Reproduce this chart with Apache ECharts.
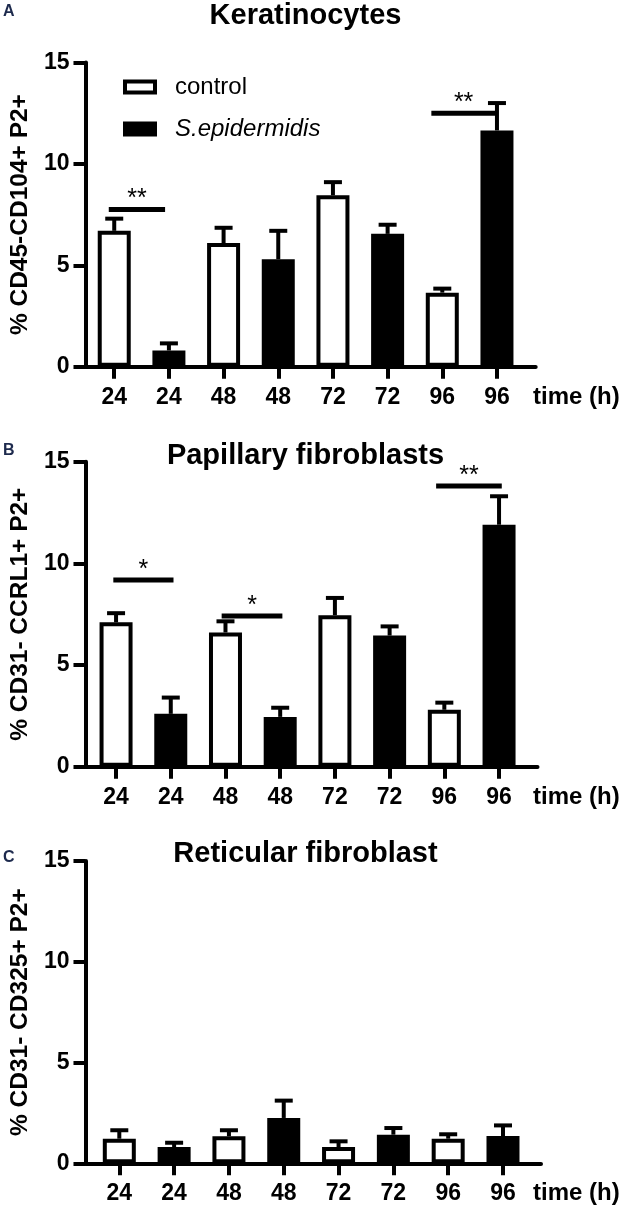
<!DOCTYPE html>
<html><head><meta charset="utf-8">
<script src="https://cdn.jsdelivr.net/npm/echarts@6/dist/echarts.min.js"></script>
<style>html,body{margin:0;padding:0;background:#fff}#c{width:633px;height:1209px}</style>
</head><body><div id="c"></div>
<script>
// ---------- data ----------
const categories = ['24', '24', '48', '48', '72', '72', '96', '96'];
const yTickValues = [0, 5, 10, 15];
const seriesNames = ['control', 'S.epidermidis'];
const panelTitles = ['Keratinocytes', 'Papillary fibroblasts', 'Reticular fibroblast'];
const panelLetters = ['A', 'B', 'C'];
const yAxisNames = ['% CD45-CD104+ P2+', '% CD31- CCRL1+ P2+', '% CD31- CD325+ P2+'];
const timeLabel = 'time (h)';

// Panel A — Keratinocytes (control at 24/48/72/96 h, S.epidermidis at 24/48/72/96 h)
const ctrlA = [6.7, 6.1, 8.45, 3.65];
const ctrlUpperA = [7.3, 6.85, 9.1, 3.85];
const seA = [0.8, 5.3, 6.55, 11.65];
const seUpperA = [1.15, 6.7, 7.0, 13.0];
// significance: [from category, to category, height, label]
const sigA = [[-0.1, 0.93, 7.75, '**'], [5.8, 6.98, 12.5, '**']];

// Panel B — Papillary fibroblasts
const ctrlB = [7.1, 6.6, 7.45, 2.8];
const ctrlUpperB = [7.55, 7.15, 8.3, 3.15];
const seB = [2.6, 2.45, 6.45, 11.9];
const seUpperB = [3.4, 2.9, 6.9, 13.3];
const sigB = [[-0.05, 1.05, 9.18, '*'], [1.93, 3.04, 7.41, '*'], [5.85, 7.05, 13.8, '**']];

// Panel C — Reticular fibroblast
const ctrlC = [1.22, 1.34, 0.81, 1.22];
const ctrlUpperC = [1.64, 1.64, 1.09, 1.44];
const seC = [0.81, 2.25, 1.42, 1.35];
const seUpperC = [1.02, 3.11, 1.75, 1.88];
const sigC = [];

// ---------- layout (px) ----------
const W = 633;
const FONT = "'Liberation Sans', Arial, Helvetica, sans-serif";
const geo = [
  {axisX: 78,   endX: 535.7, bandL: 86.9, bandR: 524.3, top: 62.5,  bottom: 366.7,  titleTop: 1,   letterTop: 4,     nameGap: 50, timeTop: 385},
  {axisX: 80,   endX: 537.5, bandL: 88.7, bandR: 526.4, top: 461.7, bottom: 766.7,  titleTop: 441, letterTop: 443,   nameGap: 50, timeTop: 785},
  {axisX: 82.5, endX: 541,   bandL: 91.9, bandR: 530.4, top: 861,   bottom: 1163.3, titleTop: 839, letterTop: 849.5, nameGap: 51, timeTop: 1181}
];

const panels = [
  {ctrl: ctrlA, ctrlUp: ctrlUpperA, se: seA, seUp: seUpperA, sig: sigA},
  {ctrl: ctrlB, ctrlUp: ctrlUpperB, se: seB, seUp: seUpperB, sig: sigB},
  {ctrl: ctrlC, ctrlUp: ctrlUpperC, se: seC, seUp: seUpperC, sig: sigC}
];

const grids = [], xAxes = [], yAxes = [], series = [], titles = [];

panels.forEach((p, k) => {
  const g = geo[k];
  const outer = 2 * k, inner = 2 * k + 1;
  grids.push({left: g.axisX, right: W - g.endX, top: g.top, height: g.bottom - g.top});
  grids.push({left: g.bandL, right: W - g.bandR, top: g.top, height: g.bottom - g.top});

  // outer axes: axis lines, y ticks, y labels, y name
  xAxes.push({
    type: 'value', gridIndex: outer, min: 0, max: 1,
    axisLine: {show: true, onZero: false, lineStyle: {color: '#000', width: 4}},
    axisTick: {show: false}, axisLabel: {show: false}, splitLine: {show: false}
  });
  yAxes.push({
    type: 'value', gridIndex: outer, min: yTickValues[0], max: yTickValues[yTickValues.length - 1],
    interval: yTickValues[1] - yTickValues[0],
    axisLine: {show: true, onZero: false, lineStyle: {color: '#000', width: 4}},
    axisTick: {show: true, length: 12, lineStyle: {color: '#000', width: 4}},
    axisLabel: {margin: 16, color: '#000', fontFamily: FONT, fontWeight: 'bold', fontSize: 23},
    splitLine: {show: false},
    name: yAxisNames[k], nameLocation: 'middle', nameGap: g.nameGap,
    nameTextStyle: {color: '#000', fontFamily: FONT, fontWeight: 'bold', fontSize: 24.5}
  });
  // inner axes: categories
  xAxes.push({
    type: 'category', gridIndex: inner, data: categories,
    axisLine: {show: false},
    axisTick: {show: true, alignWithLabel: true, interval: 0, length: 12, lineStyle: {color: '#000', width: 4}},
    axisLabel: {interval: 0, margin: 19, color: '#000', fontFamily: FONT, fontWeight: 'bold', fontSize: 23}
  });
  yAxes.push({type: 'value', gridIndex: inner, min: 0, max: 15, show: false});

  const ctrlData = categories.map((c, i) => i % 2 === 0 ? p.ctrl[i / 2] : '-');
  const seData = categories.map((c, i) => i % 2 === 1 ? p.se[(i - 1) / 2] : '-');
  series.push({
    name: seriesNames[0], type: 'bar', xAxisIndex: inner, yAxisIndex: inner,
    data: ctrlData, barWidth: 33, barGap: '-100%',
    itemStyle: {color: '#fff', borderColor: '#000', borderWidth: 4}, z: 2
  });
  series.push({
    name: seriesNames[1], type: 'bar', xAxisIndex: inner, yAxisIndex: inner,
    data: seData, barWidth: 33, barGap: '-100%',
    itemStyle: {color: '#000', borderColor: '#000', borderWidth: 4}, z: 2
  });
  const errData = categories.map((c, i) => i % 2 === 0
    ? [i, p.ctrl[i / 2], p.ctrlUp[i / 2]]
    : [i, p.se[(i - 1) / 2], p.seUp[(i - 1) / 2]]);
  series.push({
    type: 'custom', xAxisIndex: inner, yAxisIndex: inner, data: errData, z: 3,
    renderItem: (params, api) => {
      const i = api.value(0);
      const p0 = api.coord([i, api.value(1)]);
      const p1 = api.coord([i, api.value(2)]);
      return {type: 'group', children: [
        {type: 'rect', shape: {x: p0[0] - 2, y: p1[1], width: 4, height: p0[1] - p1[1]}, style: {fill: '#000'}},
        {type: 'rect', shape: {x: p0[0] - 9, y: p1[1] - 2, width: 18, height: 4}, style: {fill: '#000'}}
      ]};
    }
  });
  if (p.sig.length) {
    const sigArr = p.sig;
    series.push({
      type: 'custom', xAxisIndex: inner, yAxisIndex: inner, z: 4,
      data: sigArr.map(s => [0, s[2]]),
      renderItem: (params, api) => {
        const s = sigArr[params.dataIndex];
        const band = api.size([1, 0])[0];
        const i1 = Math.round(s[0]), i2 = Math.round(s[1]);
        const a = api.coord([i1, s[2]]), b = api.coord([i2, s[2]]);
        const x1 = a[0] + (s[0] - i1) * band, x2 = b[0] + (s[1] - i2) * band;
        return {type: 'group', children: [
          {type: 'rect', shape: {x: x1, y: a[1] - 2.5, width: x2 - x1, height: 5}, style: {fill: '#000'}},
          {type: 'text', style: {text: s[3], x: (x1 + x2) / 2, y: a[1] - 10, align: 'center', verticalAlign: 'middle',
            font: '25px ' + FONT, fill: '#000'}}
        ]};
      }
    });
  }

  titles.push({text: panelTitles[k], left: 305.5, top: g.titleTop, textAlign: 'center', padding: 0,
    textStyle: {color: '#000', fontFamily: FONT, fontWeight: 'bold', fontSize: 29}});
  titles.push({text: panelLetters[k], left: 3, top: g.letterTop, padding: 0,
    textStyle: {color: '#1d2a4d', fontFamily: FONT, fontWeight: 'bold', fontSize: 16}});
  titles.push({text: timeLabel, left: 533, top: g.timeTop, padding: 0,
    textStyle: {color: '#000', fontFamily: FONT, fontWeight: 'bold', fontSize: 24}});
});

const chart = echarts.init(document.getElementById('c'), null, {renderer: 'canvas'});
chart.setOption({
  animation: false,
  backgroundColor: '#fff',
  title: titles,
  legend: {
    orient: 'vertical', left: 118, top: 70, itemWidth: 30, itemHeight: 11, itemGap: 18,
    icon: 'rect',
    data: [
      {name: seriesNames[0], itemStyle: {color: '#fff', borderColor: '#000', borderWidth: 4}},
      {name: seriesNames[1], itemStyle: {color: '#000', borderColor: '#000', borderWidth: 4}, textStyle: {fontStyle: 'italic'}}
    ],
    textStyle: {color: '#000', fontFamily: FONT, fontSize: 24, lineHeight: 24, padding: [0, 0, 0, 15]},
    selectedMode: false
  },
  grid: grids, xAxis: xAxes, yAxis: yAxes, series: series
});
</script></body></html>
